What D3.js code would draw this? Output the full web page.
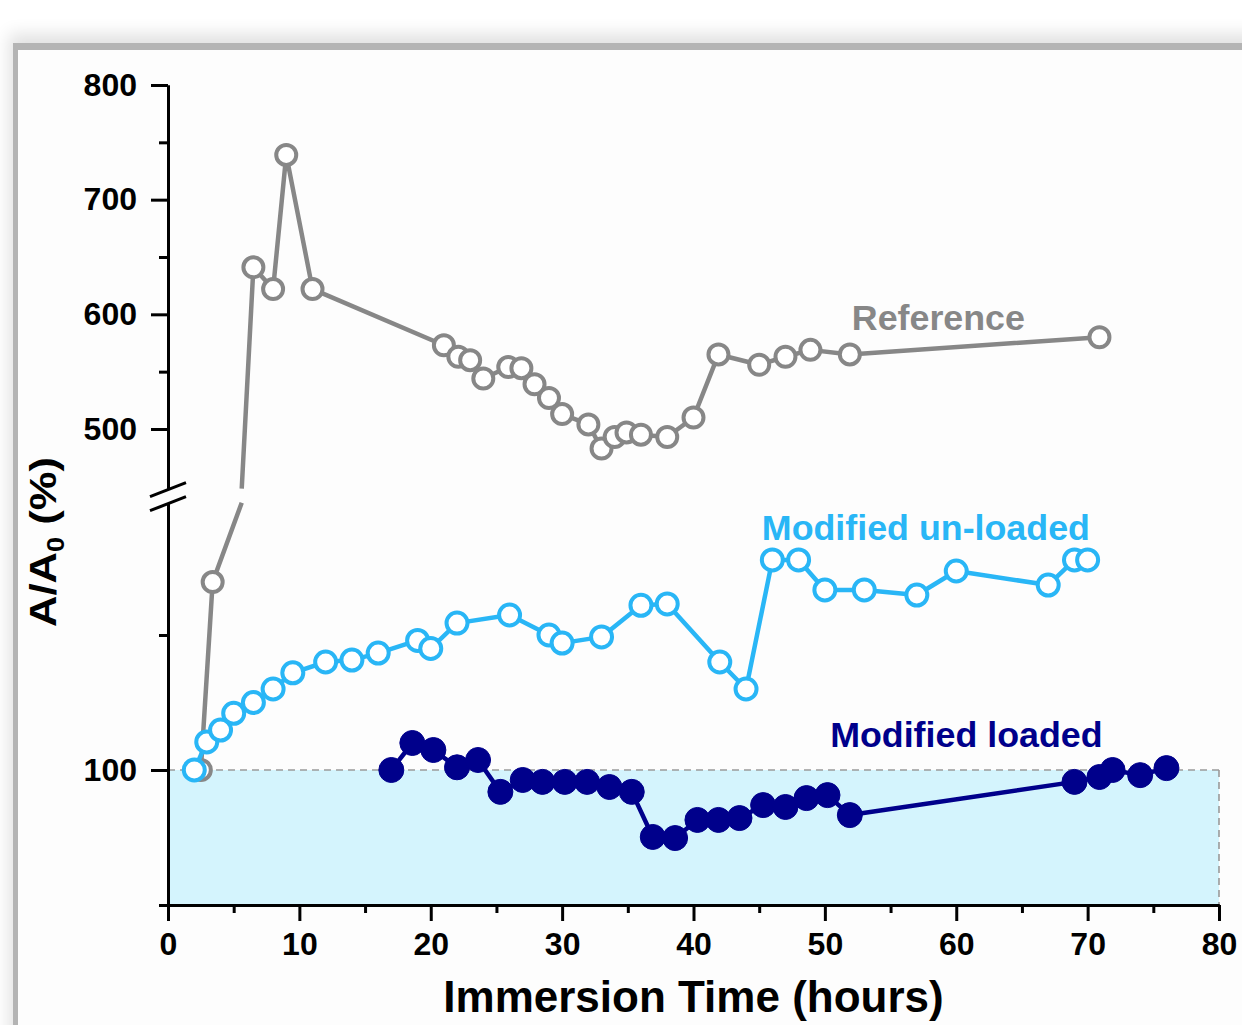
<!DOCTYPE html>
<html>
<head>
<meta charset="utf-8">
<script src="https://cdn.jsdelivr.net/npm/d3@7"></script>
<style>
body { margin: 0; background: #fff; width: 1242px; height: 1025px; overflow: hidden; position: relative; font-family: "Liberation Sans", Arial, sans-serif; }
#card { position: absolute; left: 18px; top: 50px; width: 1300px; height: 1100px; background: #fdfdfd;
        box-shadow: -5px -7px 0 #b4b4b4, -9px -16px 16px rgba(0,0,0,0.12); }
svg { position: absolute; left: 0; top: 0; }
</style>
</head>
<body>
<div id="card"></div>
<svg id="chart" width="1242" height="1025"></svg>
<script>
// data (x = hours, y = A/A0 %)
const refX = [2.5, 3.4, 6.5, 8, 9, 11, 21, 22.1, 23, 24, 25.9, 26.9, 27.9, 29, 30, 32, 33, 34, 34.9, 36, 38, 40, 41.9, 45, 47, 48.9, 51.9, 70.9];
const refY = [100, 169.6, 641, 622, 739, 622, 573, 563, 560, 544, 554, 553, 539, 527, 513, 504, 483, 493, 497, 495, 493, 510, 565, 556, 563, 569, 565, 580];

const unlX = [2, 2.95, 4, 5, 6.5, 8, 9.5, 12, 14, 16, 19, 20, 22, 26, 29, 30, 33, 36, 38, 42, 44, 46, 48, 50, 53, 57, 60, 67, 69, 70];
const unlY = [100, 110.4, 114.8, 121, 125, 130, 136, 140, 140.7, 143.3, 148, 145, 154.4, 157.4, 150, 147, 149.3, 161, 161.5, 140, 130, 177.8, 177.8, 166.7, 166.7, 164.8, 173.7, 168.5, 177.8, 177.8];

const ldX = [17, 18.6, 20.2, 22, 23.6, 25.3, 27, 28.5, 30.2, 31.9, 33.6, 35.3, 36.9, 38.6, 40.3, 41.9, 43.5, 45.3, 47, 48.6, 50.2, 51.9, 69, 70.9, 71.9, 74, 76];
const ldY = [100, 110, 107.4, 101, 103.7, 91.9, 96.3, 95.6, 95.6, 95.6, 93.7, 91.9, 75.2, 74.8, 81.5, 81.5, 82.2, 87, 86.3, 89.6, 90.7, 83.3, 95.6, 97.4, 100, 98.1, 100.7];

const xTicks = [0, 10, 20, 30, 40, 50, 60, 70, 80];
const xMinor = [5, 15, 25, 35, 45, 55, 65, 75];
const yUpTicks = [500, 600, 700, 800];
const yUpMinor = [550, 650, 750];
const yLoTicks = [100];
const yLoMinor = [50, 150];

const labels = [
    { text: "Reference", x: 52.05, y: 586, color: "#878787" },
    { text: "Modified un-loaded", x: 45.2, y: 185.2, color: "#29b6f6" },
    { text: "Modified loaded", x: 50.4, y: 108.5, color: "#00008b" }
];

const gray = "#878787", blue = "#29b6f6", navy = "#00008b";

var svg = d3.select("#chart");

var x = d3.scaleLinear().domain([0, 80]).range([168, 1219]);
// broken y axis: two linear pieces
var upMin = 448, loMax = 199;
var yUp = d3.scaleLinear().domain([upMin, 800]).range([488.6, 85]);
var yLo = d3.scaleLinear().domain([50, loMax]).range([905, 502.7]);
function y(v) { return v > loMax ? yUp(v) : yLo(v); }

// shaded region below 100 %
svg.append("rect")
    .attr("x", x(0)).attr("y", yLo(100))
    .attr("width", x(80) - x(0)).attr("height", yLo(50) - yLo(100))
    .attr("fill", "#d4f4fd");

svg.append("line")
    .attr("x1", x(0)).attr("x2", x(80)).attr("y1", yLo(100)).attr("y2", yLo(100))
    .attr("stroke", "#9a9a9a").attr("stroke-width", 1.6).attr("stroke-dasharray", "7,5");
svg.append("line")
    .attr("x1", x(80)).attr("x2", x(80)).attr("y1", yLo(100)).attr("y2", yLo(50))
    .attr("stroke", "#9a9a9a").attr("stroke-width", 1.6).attr("stroke-dasharray", "7,5");

// axes
function styleAxis(g) {
    g.select(".domain").attr("stroke", "#000").attr("stroke-width", 3);
    g.selectAll(".tick line").attr("stroke", "#000").attr("stroke-width", 3);
    g.selectAll(".tick text").attr("fill", "#000").attr("font-size", 32).attr("font-weight", "bold")
        .attr("font-family", "'Liberation Sans', Arial, sans-serif");
}

svg.append("g")
    .attr("transform", "translate(0," + yLo(50) + ")")
    .call(d3.axisBottom(x).tickValues(xTicks).tickSize(16).tickPadding(11).tickSizeOuter(0))
    .call(styleAxis);
svg.append("g")
    .attr("transform", "translate(0," + yLo(50) + ")")
    .call(d3.axisBottom(x).tickValues(xMinor).tickSize(8).tickFormat("").tickSizeOuter(0))
    .call(styleAxis);

svg.append("g")
    .attr("transform", "translate(" + x(0) + ",0)")
    .call(d3.axisLeft(yUp).tickValues(yUpTicks).tickSize(17).tickPadding(14).tickSizeOuter(0))
    .call(styleAxis);
svg.append("g")
    .attr("transform", "translate(" + x(0) + ",0)")
    .call(d3.axisLeft(yUp).tickValues(yUpMinor).tickSize(9).tickFormat("").tickSizeOuter(0))
    .call(styleAxis);
svg.append("g")
    .attr("transform", "translate(" + x(0) + ",0)")
    .call(d3.axisLeft(yLo).tickValues(yLoTicks).tickSize(17).tickPadding(14).tickSizeOuter(0))
    .call(styleAxis);
svg.append("g")
    .attr("transform", "translate(" + x(0) + ",0)")
    .call(d3.axisLeft(yLo).tickValues(yLoMinor).tickSize(9).tickFormat("").tickSizeOuter(0))
    .call(styleAxis);

// break marks
var gapTop = yUp(upMin), gapBot = yLo(loMax);
[gapTop, gapBot].forEach(function (yy) {
    svg.append("line")
        .attr("x1", x(0) - 18).attr("y1", yy + 8)
        .attr("x2", x(0) + 18).attr("y2", yy - 6)
        .attr("stroke", "#000").attr("stroke-width", 3);
});

// line path that jumps over the axis break
function breakPath(xs, ys) {
    var p = d3.path();
    xs.forEach(function (xv, i) {
        var px = x(xv), py = y(ys[i]);
        if (i === 0) { p.moveTo(px, py); return; }
        var v0 = ys[i - 1], v1 = ys[i];
        var up0 = v0 > loMax, up1 = v1 > loMax;
        if (up0 === up1) { p.lineTo(px, py); return; }
        var t = (upMin - v0) / (v1 - v0);
        var xb = x(xs[i - 1] + (xv - xs[i - 1]) * t) + 5;
        if (!up0) { p.lineTo(xb, gapBot); p.moveTo(xb, gapTop); }
        else { p.lineTo(xb, gapTop); p.moveTo(xb, gapBot); }
        p.lineTo(px, py);
    });
    return p.toString();
}

function drawSeries(xs, ys, color, filled, r) {
    var g = svg.append("g");
    g.append("path")
        .attr("d", breakPath(xs, ys))
        .attr("fill", "none").attr("stroke", color).attr("stroke-width", 4.5)
        .attr("stroke-linejoin", "round");
    g.selectAll("circle")
        .data(xs)
        .enter().append("circle")
        .attr("cx", function (d) { return x(d); })
        .attr("cy", function (d, i) { return y(ys[i]); })
        .attr("r", r)
        .attr("fill", filled ? color : "#ffffff")
        .attr("stroke", color)
        .attr("stroke-width", filled ? 1 : 4);
}

drawSeries(refX, refY, gray, false, 10);
drawSeries(unlX, unlY, blue, false, 10.5);
drawSeries(ldX, ldY, navy, true, 12.5);

// series labels
labels.forEach(function (l) {
    svg.append("text")
        .attr("x", x(l.x)).attr("y", y(l.y))
        .attr("fill", l.color)
        .attr("font-size", 35.8).attr("font-weight", "bold")
        .text(l.text);
});

// axis titles
svg.append("text")
    .attr("x", (x(0) + x(80)) / 2).attr("y", 1012)
    .attr("text-anchor", "middle")
    .attr("font-size", 44).attr("font-weight", "bold").attr("fill", "#000")
    .text("Immersion Time (hours)");

var yt = svg.append("text")
    .attr("transform", "translate(56,542) rotate(-90)")
    .attr("text-anchor", "middle")
    .attr("font-size", 37).attr("font-weight", "bold").attr("fill", "#000")
    .attr("textLength", 170).attr("lengthAdjust", "spacingAndGlyphs");
yt.append("tspan").text("A/A");
yt.append("tspan").attr("font-size", 23).attr("dy", 8).text("0");
yt.append("tspan").attr("dy", -8).text(" (%)");
</script>
</body>
</html>
